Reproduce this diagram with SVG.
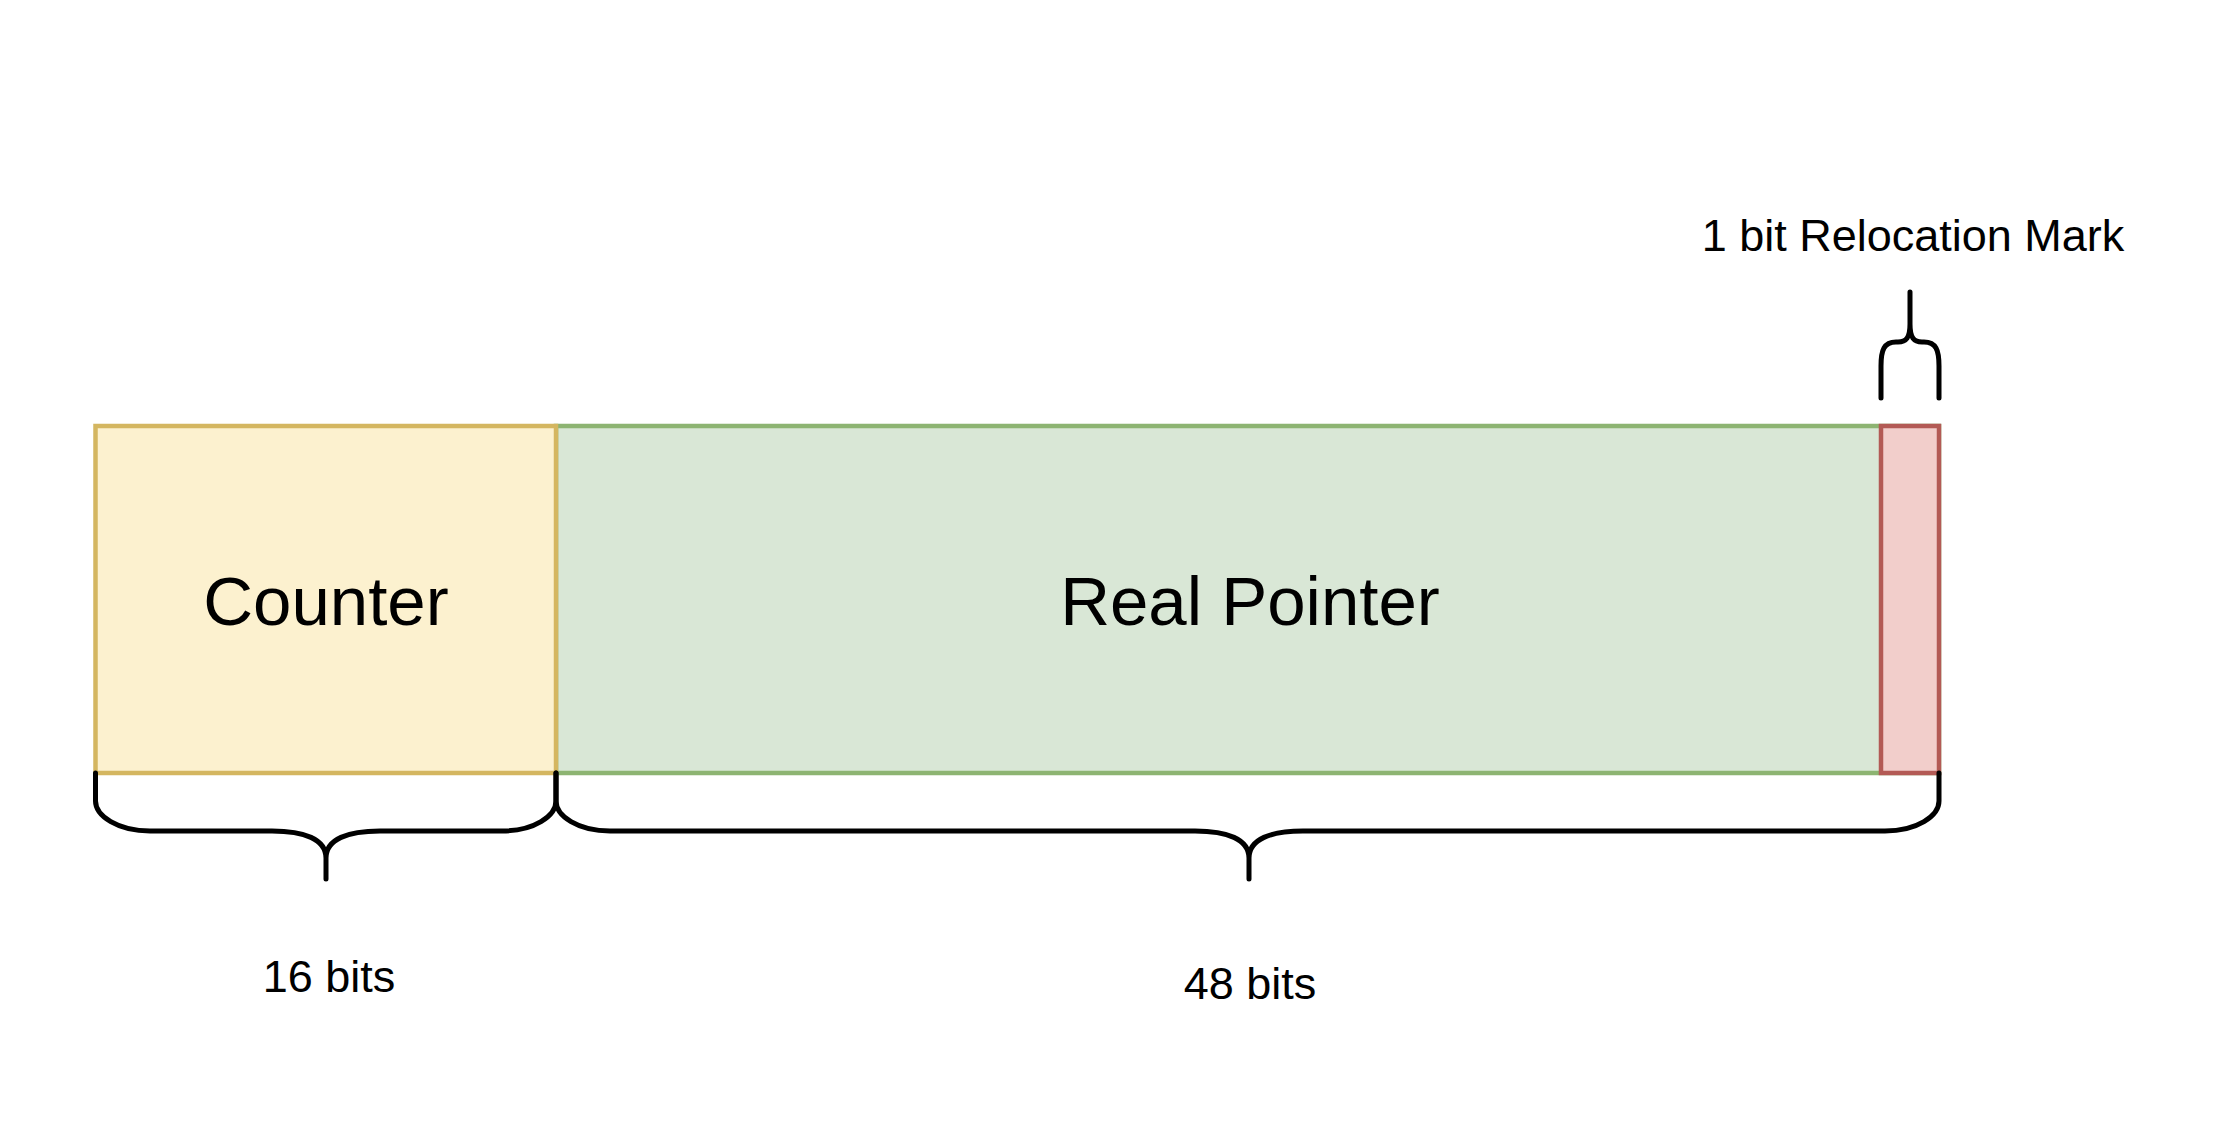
<svg xmlns="http://www.w3.org/2000/svg" width="2236" height="1124" viewBox="0 0 2236 1124">
<style>
.lbl{font-family:"Liberation Sans",Arial,Helvetica,sans-serif;fill:#000;text-anchor:middle}
.big{font-size:69px}
.small{font-size:45px}
.brace{fill:none;stroke:#000;stroke-width:5;stroke-linecap:round;stroke-linejoin:round}
</style>
<rect width="2236" height="1124" fill="#ffffff"/>
<g id="real-pointer">
<rect x="556" y="426" width="1383" height="347" fill="#d9e7d6" stroke="#8db472" stroke-width="4.5"/>
<text class="lbl big" x="1250" y="625">Real Pointer</text>
</g>
<g id="counter">
<rect x="95.5" y="426" width="460.5" height="347" fill="#fcf1cf" stroke="#d4b660" stroke-width="4.5"/>
<text class="lbl big" x="326" y="625">Counter</text>
</g>
<g id="relocation-bit">
<rect x="1881" y="426" width="58" height="347" fill="#f2cecb" stroke="#b35a55" stroke-width="4.5"/>
</g>
<g id="connectors">
<path class="brace" d="M95.5,773 L95.5,801 C95.5,816 118,831 150,831 L272,831 C304,831 326,839 326,858 L326,879 M326,858 C326,839 348,831 380,831 L502,831 C534,831 556,816 556,801 L556,773"/>
<path class="brace" d="M556,773 L556,801 C556,816 578,831 610,831 L1195,831 C1227,831 1249,839 1249,858 L1249,879 M1249,858 C1249,839 1271,831 1303,831 L1885,831 C1917,831 1939,816 1939,801 L1939,773"/>
<path class="brace" d="M1881,398 L1881,366 C1881,350 1884,342 1896,342 L1898,342 C1906,342 1910,338 1910,324 L1910,292 M1910,324 C1910,338 1914,342 1922,342 L1924,342 C1936,342 1939,350 1939,366 L1939,398"/>
</g>
<g id="labels">
<text class="lbl small" x="329" y="992">16 bits</text>
<text class="lbl small" x="1250" y="999">48 bits</text>
<text class="lbl small" x="1913" y="251">1 bit Relocation Mark</text>
</g>
</svg>
